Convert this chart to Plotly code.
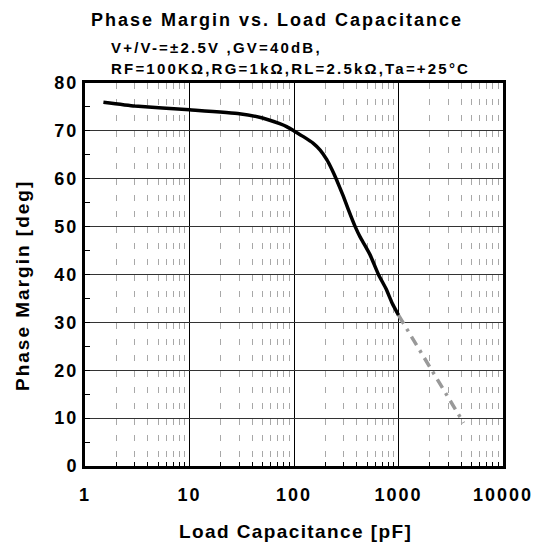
import plotly.graph_objects as go

# Data
cap_solid = [1.5, 3, 10, 30, 50, 73, 85, 100, 123, 153, 178, 206, 230, 253,
             297, 332, 385, 430, 480, 535, 643, 760, 870, 1000]
pm_solid = [76.0, 75.2, 74.4, 73.6, 72.7, 71.5, 70.9, 70.0, 68.8, 67.4, 66.0, 64.0, 62.0, 60.0,
            56.3, 53.5, 50.0, 47.8, 46.0, 44.1, 40.0, 37.0, 34.0, 31.5]
cap_dash = [1000, 4200]
pm_dash = [31.5, 9.0]

x_ticks = [1, 10, 100, 1000, 10000]
x_tick_labels = ["1", "10", "100", "1000", "10000"]
y_ticks = [0, 10, 20, 30, 40, 50, 60, 70, 80]
y_tick_labels = ["0", "10", "20", "30", "40", "50", "60", "70", "80"]

title_text = "Phase Margin vs. Load Capacitance"
sub1 = "V+/V-=±2.5V ,GV=40dB,"
sub2 = "RF=100KΩ,RG=1kΩ,RL=2.5kΩ,Ta=+25°C"
x_title = "Load Capacitance [pF]"
y_title = "Phase Margin [deg]"

FONT = "Liberation Sans, Arial, sans-serif"
OFF = 8  # page body margin

def spaced(t, ls):
    return f'<span style="letter-spacing:{ls}px">{t}</span>'

fig = go.Figure()
fig.add_trace(go.Scatter(x=cap_dash, y=pm_dash, mode="lines",
                         line=dict(color="#999999", width=3.5, dash="10px,6px,3px,6px"),
                         showlegend=False, hoverinfo="skip"))
fig.add_trace(go.Scatter(x=cap_solid, y=pm_solid, mode="lines",
                         line=dict(color="black", width=3.5, shape="spline", smoothing=0.4),
                         showlegend=False))

W, H = 540, 545
L, R, T, B = 77, 45, 75, 87
pw, ph = W - L - R, H - T - B

def px(xp):
    return (xp - OFF - L) / pw

def py(yp):
    return (H - B - (yp - OFF)) / ph

fig.update_layout(
    width=W, height=H,
    margin=dict(l=L, r=R, t=T, b=B),
    paper_bgcolor="white", plot_bgcolor="white",
    font=dict(family=FONT, color="black"),
    annotations=[
        dict(text=spaced(title_text, 2.0), x=px(277), y=py(20), xref="paper", yref="paper",
             xanchor="center", yanchor="middle", showarrow=False,
             font=dict(size=18, weight="bold", family=FONT, color="black")),
        dict(text=spaced(sub1, 2.2), x=px(109), y=py(47.5), xref="paper", yref="paper",
             xanchor="left", yanchor="middle", showarrow=False,
             font=dict(size=15, weight="bold", family=FONT, color="black")),
        dict(text=spaced(sub2, 2.2), x=px(109), y=py(68.5), xref="paper", yref="paper",
             xanchor="left", yanchor="middle", showarrow=False,
             font=dict(size=15, weight="bold", family=FONT, color="black")),
        dict(text=spaced(x_title, 1.4), x=px(295), y=py(531), xref="paper", yref="paper",
             xanchor="center", yanchor="middle", showarrow=False,
             font=dict(size=19, weight="bold", family=FONT, color="black")),
        dict(text=spaced(y_title, 2.0), x=px(22), y=py(286), xref="paper", yref="paper",
             xanchor="center", yanchor="middle", showarrow=False, textangle=-90,
             font=dict(size=19, weight="bold", family=FONT, color="black")),
    ],
)

fig.update_xaxes(
    type="log", range=[0, 4],
    tickmode="array", tickvals=x_ticks, ticktext=[spaced(t, 2) for t in x_tick_labels],
    tickfont=dict(size=18, weight="bold", family=FONT, color="black"),
    ticks="inside", ticklen=5, tickcolor="black",
    ticklabelstandoff=10,
    showline=True, linecolor="black", linewidth=3, mirror=True,
    showgrid=True, gridcolor="black", gridwidth=1,
    minor=dict(dtick="D1", ticks="inside", ticklen=4, tickcolor="black",
               showgrid=True, gridcolor="#a8a8a8", gridwidth=1, griddash="6px,10px"),
    zeroline=False,
)
fig.update_yaxes(
    range=[0, 80], tickmode="array", tickvals=y_ticks, ticktext=[spaced(t, 2) for t in y_tick_labels],
    tickfont=dict(size=18, weight="bold", family=FONT, color="black"),
    ticks="inside", ticklen=5, tickcolor="black",
    ticklabelstandoff=0,
    showline=True, linecolor="black", linewidth=3, mirror=True,
    showgrid=True, gridcolor="#333333", gridwidth=1,
    minor=dict(dtick=5, ticks="inside", ticklen=5, tickcolor="black", showgrid=False),
    zeroline=False,
)

fig.write_html("out.html")
